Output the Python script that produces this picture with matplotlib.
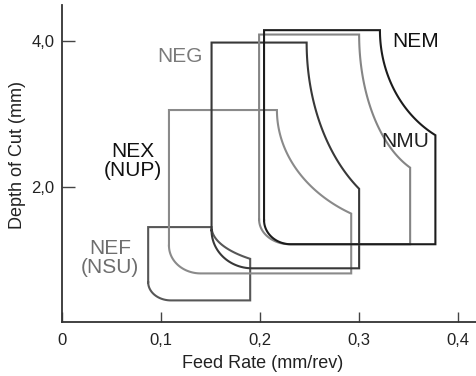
import numpy as np
import matplotlib
matplotlib.use("Agg")
import matplotlib.pyplot as plt

plt.rcParams['font.family'] = ['Liberation Sans', 'DejaVu Sans']

# Application areas of the chipbreaker grades
grades = ["NEF\n(NSU)", "NEG", "NEX\n(NUP)", "NMU", "NEM"]
feed_min = [0.087, 0.108, 0.151, 0.199, 0.204]
feed_max = [0.190, 0.292, 0.300, 0.3515, 0.377]
depth_min = [0.44, 0.81, 0.88, 1.21, 1.21]
depth_max = [1.445, 3.05, 3.975, 4.085, 4.145]
# where the concave upper-right boundary starts (on top) and ends (on the right)
feed_knee = [0.151, 0.217, 0.247, 0.300, 0.321]
depth_knee = [1.01, 1.63, 1.97, 2.26, 2.705]

# label anchors (feed, depth)
label_feed = [0.0485, 0.1187, 0.0718, 0.3461, 0.3566]
label_depth = [1.02, 3.78, 2.35, 2.62, 3.99]

# styling
line_colors = ['#575757', '#8a8a8a', '#383838', '#858585', '#1c1c1c']
label_colors = ['#6e6e6e', '#7a7a7a', '#111111', '#222222', '#111111']
arc_end = [50, 60, 55, 68, 61]            # degrees, shape of the concave arc
corner_r = [(0.023, 0.25), (0.032, 0.38), (0.041, 0.52), (0.031, 0.34), (0.027, 0.33)]


def outline(x0, x1, y0, y1, xa, yb, phi_deg, rx, ry):
    """Closed outline: rounded lower-left corner, concave upper-right edge."""
    phi_e = np.radians(phi_deg)
    Rx = (x1 - xa) / (1 - np.cos(phi_e))
    Ry = (y1 - yb) / np.sin(phi_e)
    cx, cy = xa + Rx, y1
    t = np.linspace(0, phi_e, 60)
    arc_x = cx - Rx * np.cos(t)
    arc_y = cy - Ry * np.sin(t)

    s = np.linspace(np.radians(270), np.radians(180), 30)
    cor_x = x0 + rx + rx * np.cos(s)
    cor_y = y0 + ry + ry * np.sin(s)

    xs = np.concatenate([[x0, x0], arc_x, [x1, x1], cor_x])
    ys = np.concatenate([[y0 + ry, y1], arc_y, [yb, y0], cor_y])
    return xs, ys


fig = plt.figure(figsize=(4.76, 3.76), dpi=100)
ax = fig.add_axes([62 / 476, 1 - 321.7 / 376, 1 - 62 / 476, (321.7 - 5) / 376])

for i in range(len(grades)):
    xs, ys = outline(feed_min[i], feed_max[i], depth_min[i], depth_max[i],
                     feed_knee[i], depth_knee[i], arc_end[i], *corner_r[i])
    ax.plot(xs, ys, color=line_colors[i], lw=1.5, solid_joinstyle='miter')
    ax.text(label_feed[i], label_depth[i], grades[i], color=label_colors[i],
            fontsize=15, ha='center', va='center', multialignment='center',
            linespacing=1.05)

ax.set_xlim(0, 0.418)
ax.set_ylim(0.148, 4.49)

for side in ['top', 'right']:
    ax.spines[side].set_visible(False)
for side in ['left', 'bottom']:
    ax.spines[side].set_color('#333333')
    ax.spines[side].set_linewidth(1.3)

ax.set_xticks([0, 0.1, 0.2, 0.3, 0.4])
ax.set_xticklabels(['0', '0,1', '0,2', '0,3', '0,4'])
ax.set_yticks([2.0, 4.0])
ax.set_yticklabels(['2,0', '4,0'])
ax.tick_params(axis='x', direction='in', length=7, width=1, color='#444444',
               labelsize=12, pad=8, labelcolor='#222222')
ax.tick_params(axis='y', direction='in', length=9, width=1, color='#444444',
               labelsize=12, pad=5.5, labelcolor='#222222')

fig.text(263 / 476, 1 - 363 / 376, 'Feed Rate (mm/rev)', fontsize=13,
         ha='center', va='center', color='#222222')
fig.text(18 / 476, 1 - 155 / 376, 'Depth of Cut (mm)', fontsize=13,
         ha='center', va='center', rotation=90, color='#222222')

fig.savefig('out.png', dpi=100)
